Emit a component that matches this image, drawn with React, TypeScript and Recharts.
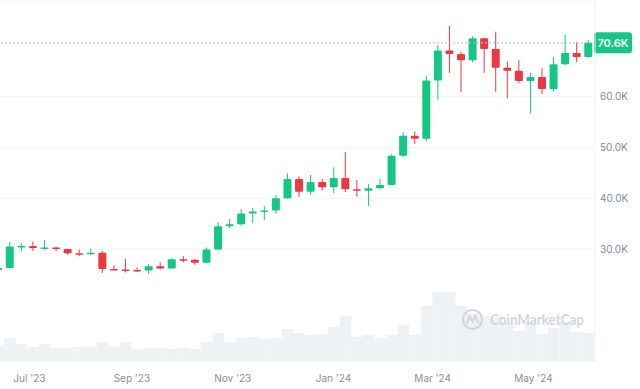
import { ComposedChart, Bar, XAxis, YAxis, CartesianGrid, ReferenceLine } from 'recharts'

// weekly BTC candles, prices in thousands of USD
const weeks = [
  '2023-06-12', '2023-06-19', '2023-06-26', '2023-07-03', '2023-07-10', '2023-07-17', '2023-07-24', '2023-07-31',
  '2023-08-07', '2023-08-14', '2023-08-21', '2023-08-28', '2023-09-04', '2023-09-11', '2023-09-18', '2023-09-25',
  '2023-10-02', '2023-10-09', '2023-10-16', '2023-10-23', '2023-10-30', '2023-11-06', '2023-11-13', '2023-11-20',
  '2023-11-27', '2023-12-04', '2023-12-11', '2023-12-18', '2023-12-25', '2024-01-01', '2024-01-08', '2024-01-15',
  '2024-01-22', '2024-01-29', '2024-02-05', '2024-02-12', '2024-02-19', '2024-02-26', '2024-03-04', '2024-03-11',
  '2024-03-18', '2024-03-25', '2024-04-01', '2024-04-08', '2024-04-15', '2024-04-22', '2024-04-29', '2024-05-06',
  '2024-05-13', '2024-05-20', '2024-05-27', '2024-06-03',
]
const opens = [
  25.9, 26.3, 30.5, 30.6, 30.2, 30.3, 30.0, 29.2, 29.0, 29.3, 26.1, 26.0, 25.9, 25.8, 26.6, 26.2,
  28.0, 27.9, 27.3, 29.9, 34.5, 34.9, 37.0, 37.4, 37.6, 40.0, 43.8, 41.3, 43.2, 42.2, 44.0, 41.8,
  41.5, 42.0, 42.6, 48.4, 52.3, 51.7, 63.2, 69.1, 68.4, 67.2, 71.5, 69.4, 65.7, 65.1, 63.1, 63.9,
  61.5, 66.4, 68.6, 67.8,
]
const highs = [
  26.8, 31.4, 31.2, 31.5, 31.8, 30.4, 30.0, 29.9, 30.1, 29.6, 26.8, 28.1, 26.4, 27.1, 27.4, 28.2,
  28.6, 28.1, 30.3, 35.3, 35.9, 37.9, 38.1, 38.5, 40.6, 44.9, 44.3, 44.6, 43.8, 46.1, 49.1, 43.6,
  42.8, 43.8, 48.7, 53.0, 53.1, 64.1, 70.2, 73.9, 68.9, 71.9, 71.6, 72.8, 66.9, 67.2, 64.7, 65.6,
  67.8, 72.2, 70.7, 71.2,
]
const lows = [
  24.8, 26.2, 29.6, 29.6, 29.9, 29.6, 28.9, 28.6, 28.8, 25.3, 25.8, 25.4, 25.5, 25.1, 26.0, 26.1,
  27.4, 26.9, 27.2, 29.8, 34.1, 34.6, 35.1, 35.7, 37.0, 39.9, 40.3, 40.7, 41.5, 41.0, 41.2, 40.3,
  38.5, 41.8, 42.5, 48.2, 50.7, 51.2, 59.4, 64.7, 60.9, 66.8, 64.7, 61.0, 59.7, 62.7, 56.7, 60.5,
  61.0, 66.2, 66.8, 67.7,
]
const closes = [
  26.3, 30.5, 30.6, 30.2, 30.3, 30.0, 29.2, 29.0, 29.3, 26.1, 26.0, 25.9, 25.8, 26.6, 26.2, 28.0,
  27.9, 27.3, 29.9, 34.5, 34.9, 37.0, 37.4, 37.6, 40.0, 43.8, 41.3, 43.2, 42.2, 44.0, 41.8, 41.5,
  42.0, 42.6, 48.4, 52.3, 51.7, 63.2, 69.1, 68.4, 67.2, 71.5, 69.4, 65.7, 65.1, 63.1, 63.9, 61.5,
  66.4, 68.6, 67.8, 70.6,
]
// weekly volume, billions of USD
const volumes = [
  77, 110, 82, 67, 82, 62, 62, 67, 67, 91, 67, 91, 58, 62, 62, 58,
  62, 58, 91, 134, 91, 110, 115, 106, 110, 154, 134, 125, 130, 163, 216, 115,
  125, 110, 125, 173, 125, 264, 331, 331, 264, 230, 216, 211, 187, 144, 187, 130,
  158, 187, 139, 134,
]
const monthTicks = ['2023-07-01', '2023-09-01', '2023-11-01', '2024-01-01', '2024-03-01', '2024-05-01']
const monthLabels = ["Jul '23", "Sep '23", "Nov '23", "Jan '24", "Mar '24", "May '24"]
const priceTicks = [30, 40, 50, 60]
const lastPrice = 70.6

const UP = '#16c784'
const DOWN = '#ea3943'
const VOL = '#eff2f5'
const DAY = 86400000
const toTime = (d: string) => Date.parse(d + 'T00:00:00Z')

const rows = weeks.map((w, i) => ({
  t: toTime(w),
  open: opens[i],
  high: highs[i],
  low: lows[i],
  close: closes[i],
  range: [lows[i], highs[i]],
  volume: volumes[i],
}))

const t0 = toTime(weeks[0])
const xDomain = [t0 + 1.21 * DAY, t0 + 361.2 * DAY]
const tickTimes = monthTicks.map(toTime)

const Candle = (props: any) => {
  const { x, y, width, height, payload } = props
  const { open, close, high, low } = payload
  const k = height / (high - low)
  const yOf = (v: number) => y + (high - v) * k
  const color = close >= open ? UP : DOWN
  const top = yOf(Math.max(open, close))
  const bodyH = Math.max(1.5, yOf(Math.min(open, close)) - top)
  const cx = x + width / 2
  return (
    <g>
      <line x1={cx} x2={cx} y1={y} y2={y + height} stroke={color} strokeWidth={1} />
      <rect x={x} y={top} width={width} height={bodyH} fill={color} rx={1} />
    </g>
  )
}

// volume blocks touch each other, so widen them a little to hide the seams
const VolumeBlock = (props: any) => {
  const { x, y, width, height } = props
  return <rect x={x - 0.6} y={y} width={width + 1.2} height={height} fill={VOL} />
}

const PriceTag = (props: any) => {
  const { viewBox } = props
  const x = viewBox.x + viewBox.width - 1
  const y = viewBox.y
  return (
    <g>
      <rect x={x} y={y - 10.5} width={38} height={21} rx={3} fill={UP} />
      <text x={x + 19} y={y} dy="0.36em" textAnchor="middle" fill="#fff" fontSize={11} fontWeight={600}>
        {lastPrice.toFixed(1)}K
      </text>
    </g>
  )
}

export default function App() {
  return (
    <div style={{ position: 'absolute', left: 0, top: 0, width: 640, height: 389, fontFamily: 'Inter, sans-serif', background: '#fff' }}>
      <ComposedChart width={640} height={389} data={rows} margin={{ top: 0, right: 0, bottom: 0, left: 0 }}>
        <CartesianGrid xAxisId="px" yAxisId="price" vertical={false} stroke="#eff2f5" />
        <XAxis
          xAxisId="px"
          dataKey="t"
          type="number"
          domain={xDomain}
          allowDataOverflow
          ticks={tickTimes}
          tickFormatter={(v: number) => monthLabels[tickTimes.indexOf(v)] ?? ''}
          height={28}
          tickLine={false}
          axisLine={false}
          tickSize={0}
          tickMargin={14}
          tick={{ fill: '#8a919e', fontSize: 10 }}
        />
        <XAxis xAxisId="vx" dataKey="t" type="number" domain={xDomain} allowDataOverflow hide />
        <YAxis
          yAxisId="price"
          orientation="right"
          domain={[7.97, 79.04]}
          allowDataOverflow
          ticks={priceTicks}
          tickFormatter={(v: number) => `${v.toFixed(1)}K`}
          width={45}
          tickLine={false}
          tickSize={0}
          tickMargin={5}
          axisLine={{ stroke: '#eff2f5' }}
          tick={{ fill: '#808a9d', fontSize: 10, textAnchor: 'start' }}
        />
        <YAxis yAxisId="vol" hide domain={[0, 1733]} />
        <Bar xAxisId="vx" yAxisId="vol" dataKey="volume" fill={VOL} shape={VolumeBlock} barSize={12} isAnimationActive={false} />
        <Bar xAxisId="px" yAxisId="price" dataKey="range" shape={Candle} barSize={8} isAnimationActive={false} />
        <ReferenceLine
          xAxisId="px"
          yAxisId="price"
          y={lastPrice}
          stroke="#b8bec9"
          strokeDasharray="2 2"
          label={<PriceTag />}
        />
      </ComposedChart>
      <svg width={140} height={28} style={{ position: 'absolute', left: 461, top: 306 }}>
        <circle cx={11.5} cy={13.5} r={9.5} fill="none" stroke="#d3d7dd" strokeWidth={2.2} />
        <path d="M6 17 L8.5 9.5 L11.5 16 L14.5 9.5 L17 16.5" fill="none" stroke="#d3d7dd" strokeWidth={2} strokeLinejoin="round" strokeLinecap="round" />
        <text x={29} y={19} fontFamily="Lato, sans-serif" fontSize={15} fontWeight={700} fill="#d3d7dd" textLength={94} lengthAdjust="spacingAndGlyphs">
          CoinMarketCap
        </text>
      </svg>
    </div>
  )
}
